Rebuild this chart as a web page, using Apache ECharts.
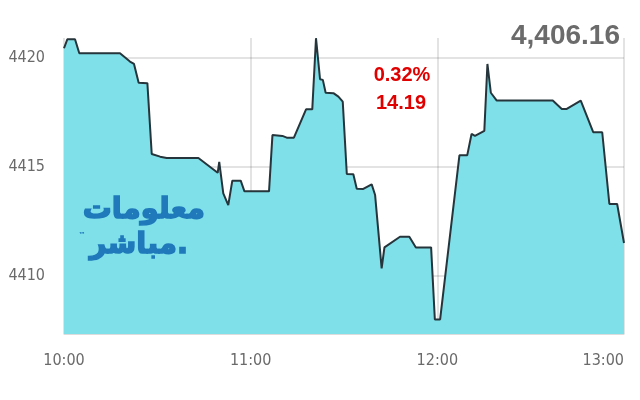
<!DOCTYPE html>
<html>
<head>
<meta charset="utf-8">
<script src="https://cdn.jsdelivr.net/npm/echarts@6/dist/echarts.min.js"></script>
<style>
html,body{margin:0;padding:0;background:#fff;}
#c{width:640px;height:400px;}
</style>
</head>
<body>
<div id="c"></div>
<script>
// minutes after 10:00
const minutes = [0, 1.06, 3.54, 4.92, 18.0, 21.2, 22.5, 24.0, 26.8, 28.2, 30.9, 33.0, 43.2, 49.4, 49.9, 51.2, 52.8, 54.1, 56.8, 58.0, 65.9, 67.0, 70.2, 71.6, 73.9, 77.8, 79.8, 81.0, 82.3, 83.2, 84.1, 86.6, 88.2, 89.6, 90.9, 93.0, 94.1, 96.2, 98.9, 100.0, 102.1, 103.0, 108.0, 111.0, 113.1, 118.0, 119.2, 120.9, 127.1, 129.6, 131.0, 132.1, 135.1, 136.1, 137.2, 139.1, 157.1, 160.0, 161.6, 166.1, 170.1, 173.0, 175.3, 177.8, 180];
const values = [4420.43, 4420.84, 4420.84, 4420.20, 4420.20, 4419.82, 4419.71, 4418.85, 4418.83, 4415.58, 4415.46, 4415.40, 4415.40, 4414.72, 4415.22, 4413.78, 4413.24, 4414.36, 4414.36, 4413.87, 4413.87, 4416.45, 4416.41, 4416.33, 4416.33, 4417.63, 4417.63, 4420.89, 4419.01, 4418.98, 4418.39, 4418.37, 4418.21, 4417.98, 4414.67, 4414.65, 4413.99, 4413.98, 4414.19, 4413.70, 4410.34, 4411.30, 4411.79, 4411.79, 4411.30, 4411.30, 4408.00, 4408.00, 4415.52, 4415.52, 4416.50, 4416.41, 4416.64, 4419.71, 4418.39, 4418.03, 4418.03, 4417.65, 4417.65, 4418.03, 4416.58, 4416.58, 4413.29, 4413.29, 4411.50];
const yTicks = [4410, 4415, 4420];
const xTickLabels = ['10:00', '11:00', '12:00', '13:00'];
const lastValue = '4,406.16';
const changePct = '0.32%';
const changePts = '14.19';
const logoLine1 = 'معلومات';
const logoLine2 = 'مباشر.';

const axisFont = "'DejaVu Sans Condensed', sans-serif";
const logoStyle = {
  fill: '#1f79ba', stroke: '#1f79ba', lineWidth: 1.5,
  align: 'right', verticalAlign: 'middle',
  font: "bold 29px 'DejaVu Sans', sans-serif",
  shadowColor: 'rgba(15,55,85,0.85)', shadowOffsetX: 2, shadowOffsetY: 2, shadowBlur: 1
};
const chart = echarts.init(document.getElementById('c'));
chart.setOption({
  animation: false,
  grid: {left: 64, right: 16, top: 38, bottom: 66},
  xAxis: {
    type: 'value', min: 0, max: 180, interval: 60, z: 3,
    axisLine: {show: true, lineStyle: {color: '#dcdcdc', width: 1}},
    axisTick: {show: false},
    splitLine: {show: true, lineStyle: {color: 'rgba(0,0,0,0.15)', width: 1.5}},
    axisLabel: {
      color: '#6a6a6a', fontFamily: axisFont, fontSize: 16, margin: 19,
      alignMaxLabel: 'right',
      formatter: v => xTickLabels[Math.round(v / 60)]
    }
  },
  yAxis: {
    type: 'value', min: 4407.33, max: 4420.9, z: 3,
    axisLine: {show: false},
    axisTick: {show: false, customValues: yTicks},
    splitLine: {show: true, lineStyle: {color: 'rgba(0,0,0,0.15)', width: 1.5}},
    axisLabel: {
      customValues: yTicks,
      color: '#6a6a6a', fontFamily: axisFont, fontSize: 16, margin: 19,
      formatter: v => String(Math.round(v))
    }
  },
  series: [{
    type: 'line',
    data: minutes.map((m, i) => [m, values[i]]),
    symbol: 'none',
    lineStyle: {color: '#26353b', width: 2},
    areaStyle: {color: '#7fe0ea', opacity: 1, origin: 'start'}
  }],
  graphic: [
    {type: 'text', x: 620, y: 36, z: 10,
      style: {text: lastValue, fill: '#6b6b6b', align: 'right', verticalAlign: 'middle', font: "bold 28px 'Liberation Sans', Arial, sans-serif"}},
    {type: 'text', x: 402, y: 75, z: 10,
      style: {text: changePct, fill: '#e00000', align: 'center', verticalAlign: 'middle', font: "bold 20px 'Liberation Sans', Arial, sans-serif"}},
    {type: 'text', x: 401, y: 103, z: 10,
      style: {text: changePts, fill: '#e00000', align: 'center', verticalAlign: 'middle', font: "bold 20px 'Liberation Sans', Arial, sans-serif"}},
    {type: 'text', x: 205, y: 210, z: 10, style: Object.assign({text: logoLine1}, logoStyle)},
    {type: 'text', x: 188, y: 245, z: 10, style: Object.assign({text: logoLine2}, logoStyle)},
    {type: 'text', x: 82, y: 235, z: 10,
      style: {text: '™', fill: '#1f79ba', align: 'center', verticalAlign: 'middle', font: "bold 7px 'DejaVu Sans', sans-serif"}}
  ]
});
</script>
</body>
</html>
